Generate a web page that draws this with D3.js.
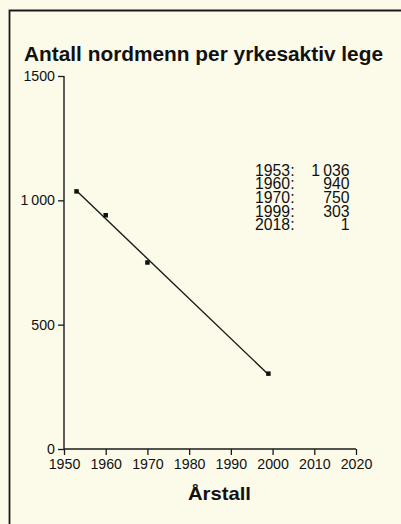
<!DOCTYPE html>
<html><head><meta charset="utf-8">
<script src="https://cdn.jsdelivr.net/npm/d3@7"></script>
<style>
html,body{margin:0;padding:0;background:#fcfbea;}
svg{display:block;}
text{font-family:"Liberation Sans",Arial,sans-serif;fill:#111;}
</style></head>
<body>
<script>
const title = "Antall nordmenn per yrkesaktiv lege";
const xTitle = "Årstall";
const years = [1953, 1960, 1970, 1999];
const values = [1036, 940, 750, 303];
const yTicks = [0, 500, 1000, 1500];
const yTickLabels = ["0", "500", "1\u2009000", "1500"];
const xTicks = [1950, 1960, 1970, 1980, 1990, 2000, 2010, 2020];
const annYears = ["1953:", "1960:", "1970:", "1999:", "2018:"];
const annValues = ["1\u2009036", "940", "750", "303", "1"];

const W = 401, H = 524;
const svg = d3.select("body").append("svg").attr("width", W).attr("height", H);
svg.append("rect").attr("width", W).attr("height", H).attr("fill", "#fcfbea");

// frame (top and left only)
svg.append("path").attr("d", `M9.5,${H} L9.5,10.5 L${W},10.5`)
  .attr("fill", "none").attr("stroke", "#1a1a1a").attr("stroke-width", 1.8);

const x = d3.scaleLinear().domain([1950, 2020]).range([64, 356]);
const y = d3.scaleLinear().domain([0, 1500]).range([449, 76]);

svg.append("text").attr("x", 24).attr("y", 61)
  .attr("font-size", 19.5).attr("font-weight", "bold")
  .attr("textLength", 359).attr("lengthAdjust", "spacingAndGlyphs")
  .text(title);

const yAxis = d3.axisLeft(y).tickValues(yTicks).tickSize(6).tickPadding(3)
  .tickFormat((d, i) => yTickLabels[i]);
const gy = svg.append("g").attr("transform", "translate(64,0)").call(yAxis);
const xAxis = d3.axisBottom(x).tickValues(xTicks).tickSize(6).tickPadding(4)
  .tickFormat(d3.format("d"));
const gx = svg.append("g").attr("transform", "translate(0,449)").call(xAxis);
[gx, gy].forEach(g => {
  g.select(".domain").attr("stroke", "#1a1a1a").attr("stroke-width", 1.4);
  g.selectAll(".tick line").attr("stroke", "#1a1a1a").attr("stroke-width", 1.3);
  g.selectAll(".tick text").attr("font-size", 14.2).attr("fill", "#111")
    .attr("font-family", "Liberation Sans, Arial, sans-serif");
});
gy.select(".domain").attr("d", `M0,${y(0)}V${y(1500)}`);
gx.select(".domain").attr("d", `M${x(1950)},0H${x(2020)}`);

// least-squares trend line through the data points
const n = years.length;
const mx = d3.mean(years), my = d3.mean(values);
const slope = d3.sum(years.map((v, i) => (v - mx) * (values[i] - my))) /
  d3.sum(years.map(v => (v - mx) ** 2));
const fit = v => my + slope * (v - mx);
const x0 = years[0], x1 = years[n - 1];
svg.append("line")
  .attr("x1", x(x0)).attr("y1", y(fit(x0)))
  .attr("x2", x(x1)).attr("y2", y(fit(x1)))
  .attr("stroke", "#1a1a1a").attr("stroke-width", 1.4);

const s = 4.5;
svg.selectAll("rect.pt").data(years).enter().append("rect").attr("class", "pt")
  .attr("x", d => x(d) - s / 2).attr("y", (d, i) => y(values[i]) - s / 2)
  .attr("width", s).attr("height", s).attr("fill", "#111");

// annotation: two columns, each one text element with tspans
const lineH = 13.65;
const colYears = svg.append("text").attr("font-size", 15.8).attr("x", 255).attr("y", 175.7);
annYears.forEach((t, i) => {
  colYears.append("tspan").attr("x", 255).attr("dy", i === 0 ? 0 : lineH).text(t);
});
const colVals = svg.append("text").attr("font-size", 15.8).attr("x", 349.5).attr("y", 175.7)
  .attr("text-anchor", "end");
annValues.forEach((t, i) => {
  colVals.append("tspan").attr("x", 349.5).attr("dy", i === 0 ? 0 : lineH).text(t);
});

svg.append("text").attr("x", 219.5).attr("y", 500).attr("text-anchor", "middle")
  .attr("font-size", 19).attr("font-weight", "bold")
  .attr("textLength", 63).attr("lengthAdjust", "spacingAndGlyphs")
  .text(xTitle);
</script>
</body></html>
